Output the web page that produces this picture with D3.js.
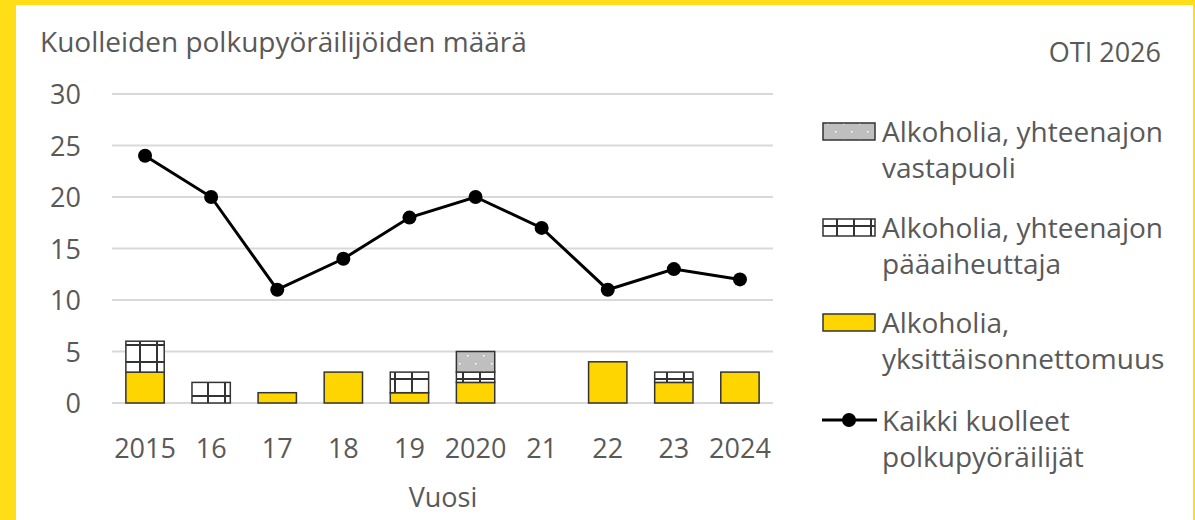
<!DOCTYPE html>
<html>
<head>
<meta charset="utf-8">
<script src="https://cdn.jsdelivr.net/npm/d3@7"></script>
<style>
  html, body { margin: 0; padding: 0; background: #fff; }
  svg { display: block; font-family: "Open Sans", "Noto Sans", sans-serif; }
</style>
</head>
<body>
<div id="chart"></div>
<script>
const width = 1195, height = 520;

// data
const years = ["2015", "16", "17", "18", "19", "2020", "21", "22", "23", "2024"];
const yksittais = [3, 0, 1, 3, 1, 2, 0, 4, 2, 3];
const paaaiheuttaja = [3, 2, 0, 0, 2, 1, 0, 0, 1, 0];
const vastapuoli = [0, 0, 0, 0, 0, 2, 0, 0, 0, 0];
const kaikki = [24, 20, 11, 14, 18, 20, 17, 11, 13, 12];
const yTicks = [0, 5, 10, 15, 20, 25, 30];

const textColor = "#595959";
const fs = 27;

const svg = d3.select("#chart").append("svg")
  .attr("width", width).attr("height", height);

const defs = svg.append("defs");
// iso ruudukko
const grid = defs.append("pattern").attr("id", "grid")
  .attr("patternUnits", "userSpaceOnUse").attr("width", 17).attr("height", 17)
  .attr("x", 3).attr("y", 4);
grid.append("rect").attr("width", 17).attr("height", 17).attr("fill", "#fff");
grid.append("rect").attr("x", 0).attr("y", 0).attr("width", 17).attr("height", 2).attr("fill", "#333");
grid.append("rect").attr("x", 0).attr("y", 0).attr("width", 2).attr("height", 17).attr("fill", "#333");
// pisteet
const dots = defs.append("pattern").attr("id", "dots")
  .attr("patternUnits", "userSpaceOnUse").attr("width", 16).attr("height", 16);
dots.append("rect").attr("width", 16).attr("height", 16).attr("fill", "#bfbfbf");
dots.append("rect").attr("x", 3).attr("y", 3).attr("width", 1.5).attr("height", 1.5).attr("fill", "#fff");
dots.append("rect").attr("x", 11).attr("y", 11).attr("width", 1.5).attr("height", 1.5).attr("fill", "#fff");

// keltainen kehys
svg.append("rect").attr("x", 0).attr("y", 0).attr("width", width).attr("height", height).attr("fill", "#ffde17");
svg.append("rect").attr("x", 16).attr("y", 5).attr("width", 1177).attr("height", height).attr("fill", "#fff");

const x = d3.scaleBand().domain(years).range([112, 773]).paddingInner(0.42).paddingOuter(0.21);
const y = d3.scaleLinear().domain([0, 30]).range([403, 94]);

svg.append("g").selectAll("line").data(yTicks).join("line")
  .attr("x1", 112).attr("x2", 773)
  .attr("y1", d => y(d)).attr("y2", d => y(d))
  .attr("stroke", "#d9d9d9").attr("stroke-width", 2);

svg.append("g").selectAll("text").data(yTicks).join("text")
  .attr("x", 81).attr("y", d => y(d) + 10)
  .attr("text-anchor", "end").attr("font-size", fs).attr("fill", textColor)
  .text(d => d);

// pinotut pylväät
const stackData = years.map((yr, i) => ({ year: yr, a: yksittais[i], b: paaaiheuttaja[i], c: vastapuoli[i] }));
const stack = d3.stack().keys(["a", "b", "c"])(stackData);
const fills = { a: "#ffd500", b: "url(#grid)", c: "url(#dots)" };

svg.append("g").selectAll("g").data(stack).join("g")
  .attr("fill", d => fills[d.key])
  .selectAll("rect").data(d => d.filter(p => p[1] > p[0])).join("rect")
  .attr("x", d => x(d.data.year))
  .attr("width", x.bandwidth())
  .attr("y", d => y(d[1]))
  .attr("height", d => y(d[0]) - y(d[1]))
  .attr("stroke", "#333").attr("stroke-width", 1.5);

// viiva
const line = d3.line().x((d, i) => x(years[i]) + x.bandwidth() / 2).y(d => y(d));
svg.append("path").datum(kaikki)
  .attr("d", line).attr("fill", "none").attr("stroke", "#000").attr("stroke-width", 3);
svg.append("g").selectAll("circle").data(kaikki).join("circle")
  .attr("cx", (d, i) => x(years[i]) + x.bandwidth() / 2)
  .attr("cy", d => y(d)).attr("r", 7).attr("fill", "#000");

// x-akselin tekstit
svg.append("g").selectAll("text").data(years).join("text")
  .attr("x", d => x(d) + x.bandwidth() / 2).attr("y", 458)
  .attr("text-anchor", "middle").attr("font-size", fs).attr("fill", textColor)
  .text(d => d);

svg.append("text").attr("x", 443).attr("y", 507)
  .attr("text-anchor", "middle").attr("font-size", fs).attr("fill", textColor)
  .text("Vuosi");

svg.append("text").attr("x", 40).attr("y", 52)
  .attr("font-size", 28).attr("fill", textColor)
  .text("Kuolleiden polkupyöräilijöiden määrä");

svg.append("text").attr("x", 1161).attr("y", 62)
  .attr("text-anchor", "end").attr("font-size", fs).attr("fill", textColor)
  .text("OTI 2026");

// selite
const legend = [
  { lines: ["Alkoholia, yhteenajon", "vastapuoli"], fill: "url(#dots)", y: 131 },
  { lines: ["Alkoholia, yhteenajon", "pääaiheuttaja"], fill: "url(#grid)", y: 227 },
  { lines: ["Alkoholia,", "yksittäisonnettomuus"], fill: "#ffd500", y: 322 },
  { lines: ["Kaikki kuolleet", "polkupyöräilijät"], fill: null, y: 420 }
];
const lg = svg.append("g").selectAll("g").data(legend).join("g");
lg.filter(d => d.fill).append("rect")
  .attr("x", 823).attr("y", d => d.y - 8).attr("width", 52).attr("height", 17)
  .attr("fill", d => d.fill).attr("stroke", "#333").attr("stroke-width", 1.5);
lg.filter(d => !d.fill).append("line")
  .attr("x1", 822).attr("x2", 877).attr("y1", d => d.y).attr("y2", d => d.y)
  .attr("stroke", "#000").attr("stroke-width", 3);
lg.filter(d => !d.fill).append("circle")
  .attr("cx", 849).attr("cy", d => d.y).attr("r", 7).attr("fill", "#000");
lg.append("text")
  .attr("x", 882).attr("y", d => d.y + 11)
  .attr("font-size", 28).attr("fill", textColor)
  .selectAll("tspan").data(d => d.lines).join("tspan")
  .attr("x", 882).attr("dy", (d, i) => i === 0 ? 0 : 36)
  .text(d => d);
</script>
</body>
</html>
